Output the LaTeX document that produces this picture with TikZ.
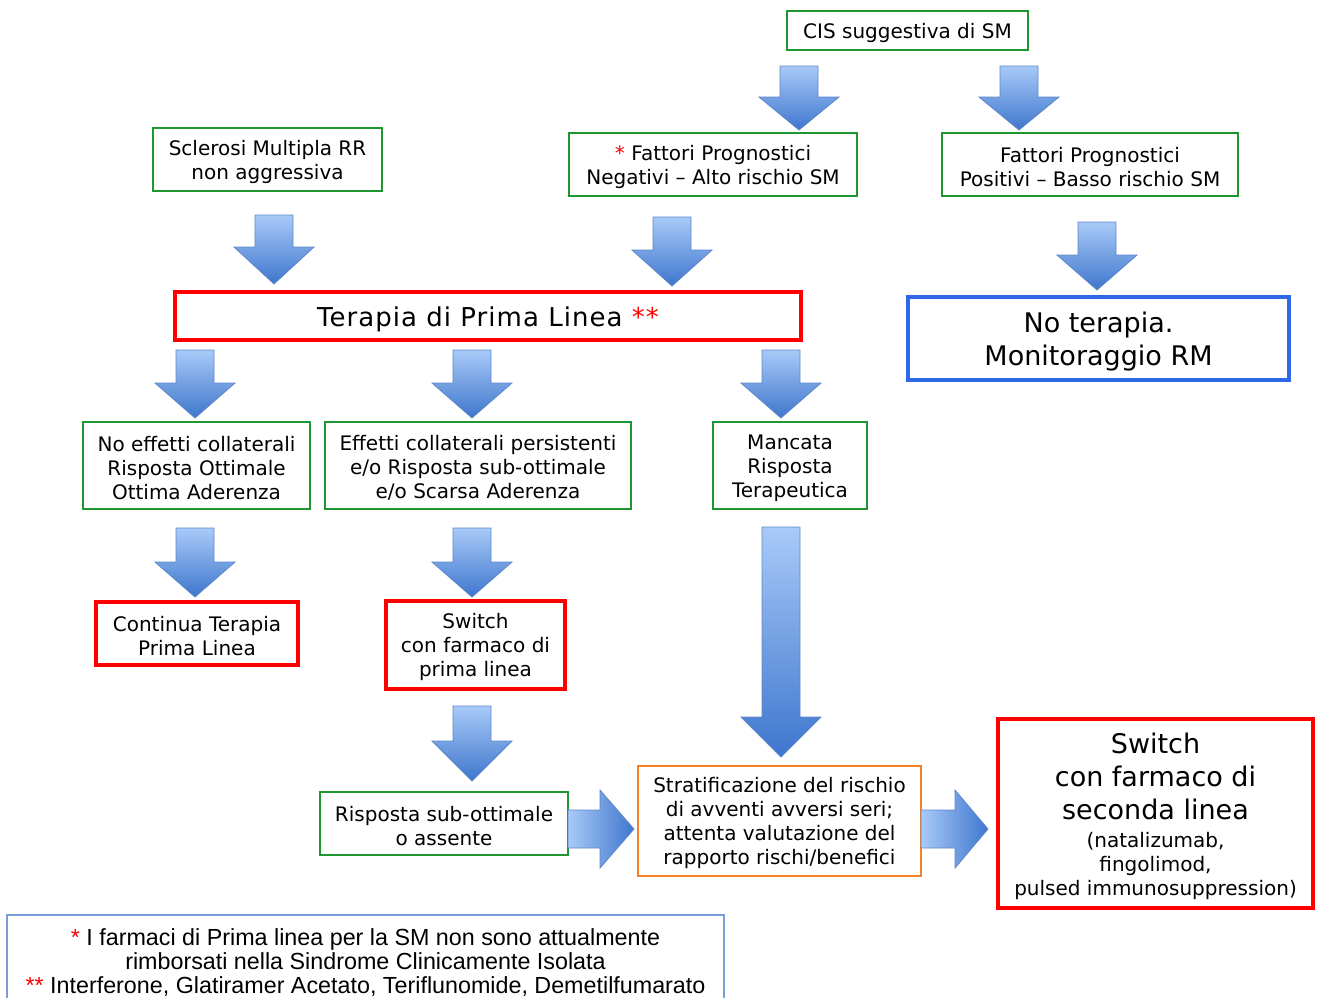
\documentclass[tikz,border=0pt]{standalone}
\usepackage{fontspec}
\setmainfont{DejaVu Sans}
\newfontfamily\notefont{Liberation Sans}
\definecolor{gbox}{RGB}{30,150,50}
\definecolor{rbox}{RGB}{255,0,0}
\definecolor{bbox}{RGB}{45,105,230}
\definecolor{obox}{RGB}{245,130,40}
\definecolor{fbox}{RGB}{120,160,215}
\definecolor{atop}{RGB}{168,202,248}
\definecolor{abot}{RGB}{62,118,205}
\definecolor{aline}{RGB}{95,135,200}
\newcommand\tup{\rule{0pt}{1.0em}}
\newcommand\bigf{\fontsize{27}{33}\selectfont}
\newcommand\blkdown[4]{%
  \path[shade, top color=atop, bottom color=abot, draw=aline, line width=0.8pt]
  ({#1-19},{#2}) -- ({#1+19},{#2}) -- ({#1+19},{#3}) -- ({#1+40},{#3}) -- ({#1},{#4})
  -- ({#1-40},{#3}) -- ({#1-19},{#3}) -- cycle;}
\newcommand\blkright[4]{%
  \path[shade, left color=atop, right color=abot, draw=aline, line width=0.8pt]
  ({#1},{#4-19}) -- ({#2},{#4-19}) -- ({#2},{#4-39}) -- ({#3},{#4}) -- ({#2},{#4+39})
  -- ({#2},{#4+19}) -- ({#1},{#4+19}) -- cycle;}
\begin{document}
\begin{tikzpicture}[x=1pt,y=-1pt,
  box/.style={draw, align=center, inner sep=0pt, text=black, font=\fontsize{20}{24}\selectfont},
  gbx/.style={box, draw=gbox, line width=2pt},
  rbx/.style={box, draw=rbox, line width=4pt},
  obx/.style={box, draw=obox, line width=2pt},
  bbx/.style={box, draw=bbox, line width=4pt}]
\useasboundingbox (0,0) rectangle (1317,997);
% boxes
\node[gbx, minimum width=241, minimum height=39] (cis) at (907.5,30.5) {\tup CIS suggestiva di SM};
\node[gbx, minimum width=288, minimum height=63] (neg) at (713,164.5) {\tup\textcolor{red}{*} Fattori Prognostici\\Negativi -- Alto rischio SM};
\node[gbx, minimum width=296, minimum height=63] (pos) at (1090,164.5) {\tup Fattori Prognostici\\Positivi -- Basso rischio SM};
\node[gbx, minimum width=229, minimum height=63] (scl) at (267.5,159.5) {\tup Sclerosi Multipla RR\\non aggressiva};
\node[rbx, minimum width=626, minimum height=48, font=\fontsize{26}{30}\selectfont\addfontfeature{LetterSpace=4}] (ter) at (488,316) {\tup Terapia di Prima Linea \textcolor{red}{**}};
\node[bbx, minimum width=381, minimum height=83, font=\bigf] (not) at (1098.5,338.5) {\tup No terapia.\\Monitoraggio RM};
\node[gbx, minimum width=227, minimum height=87] (noe) at (196.5,465.5) {\tup No effetti collaterali\\Risposta Ottimale\\Ottima Aderenza};
\node[gbx, minimum width=306, minimum height=87] (eff) at (478,465.5) {\tup Effetti collaterali persistenti\\e/o Risposta sub-ottimale\\e/o Scarsa Aderenza};
\node[gbx, minimum width=154, minimum height=87] (man) at (790,465.5) {\tup Mancata\\Risposta\\Terapeutica};
\node[rbx, minimum width=202, minimum height=63] (con) at (197,633.5) {\tup Continua Terapia\\Prima Linea};
\node[rbx, minimum width=179, minimum height=88] (swp) at (475.5,645) {\tup Switch\\con farmaco di\\prima linea};
\node[gbx, minimum width=248, minimum height=63] (ris) at (444,823.5) {\tup Risposta sub-ottimale\\o assente};
\node[obx, minimum width=283, minimum height=110] (str) at (779.5,821) {\tup Stratificazione del rischio\\di avventi avversi seri;\\attenta valutazione del\\rapporto rischi/benefici};
\node[rbx, minimum width=315, minimum height=189] (sws) at (1155.5,813.5) {\bigf\tup Switch\\[9pt]\bigf con farmaco di\\[9pt]\bigf seconda linea\\[4pt](natalizumab,\\fingolimod,\\pulsed immunosuppression)};
\node[draw=fbox, line width=1.5pt, align=center, inner sep=0pt, minimum width=717, minimum height=88,
  font=\notefont\fontsize{23.3}{24}\selectfont] (foot) at (365.5,959)
  {\tup\textcolor{red}{*} I farmaci di Prima linea per la SM non sono attualmente\\rimborsati nella Sindrome Clinicamente Isolata\\\textcolor{red}{**} Interferone, Glatiramer Acetato, Teriflunomide, Demetilfumarato};
% block arrows
\blkdown{799}{66}{97}{130}
\blkdown{1019}{66}{97}{130}
\blkdown{274}{215}{247}{284}
\blkdown{672}{217}{250}{286}
\blkdown{1097}{222}{255}{290}
\blkdown{195}{350}{383}{418}
\blkdown{472}{350}{383}{418}
\blkdown{781}{350}{383}{418}
\blkdown{195}{528}{562}{597}
\blkdown{472}{528}{562}{597}
\blkdown{781}{527}{717}{757}
\blkdown{472}{706}{741}{781}
\blkright{568}{600}{634}{829}
\blkright{921}{955}{988}{829}
\end{tikzpicture}
\end{document}
